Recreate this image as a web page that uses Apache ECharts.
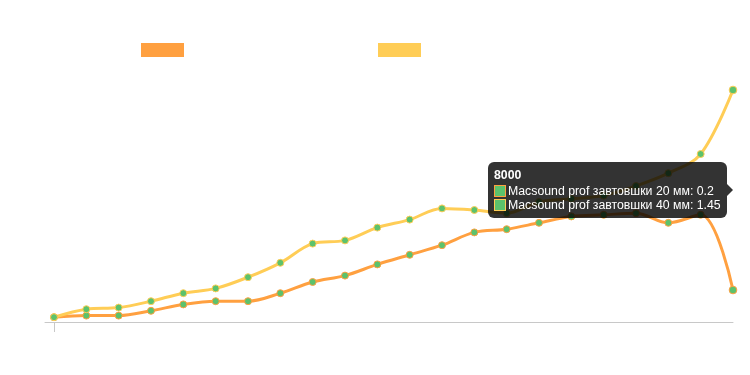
<!DOCTYPE html>
<html>
<head>
<meta charset="utf-8">
<style>
  html, body { margin: 0; padding: 0; background: #fff; }
  #chart { width: 750px; height: 375px; }
</style>
<script src="https://cdn.jsdelivr.net/npm/echarts@6/dist/echarts.min.js"></script>
</head>
<body>
<div id="chart"></div>
<script>
const freqs = ['63', '80', '100', '125', '160', '200', '250', '315', '400', '500', '630',
  '800', '1000', '1250', '1600', '2000', '2500', '3150', '4000', '5000', '6300', '8000'];
const seriesNames = ['Macsound prof завтовшки 20 мм', 'Macsound prof завтовшки 40 мм'];
const thin = [0.03, 0.04, 0.04, 0.07, 0.11, 0.13, 0.13, 0.18, 0.25, 0.29, 0.36,
  0.42, 0.48, 0.56, 0.58, 0.62, 0.66, 0.67, 0.68, 0.62, 0.67, 0.2];
const thick = [0.03, 0.08, 0.09, 0.13, 0.18, 0.21, 0.28, 0.37, 0.49, 0.51, 0.59,
  0.64, 0.71, 0.70, 0.68, 0.75, 0.77, 0.79, 0.85, 0.93, 1.05, 1.45];

const colors = ['#ffa040', '#ffcd56'];
const dotColor = '#5cc26c';

const myChart = echarts.init(document.getElementById('chart'));

function lineSeries(name, data, color) {
  return {
    name: name,
    type: 'line',
    data: data,
    smooth: 0.35,
    symbol: 'circle',
    symbolSize: 7,
    lineStyle: { color: color, width: 3 },
    itemStyle: { color: dotColor, borderColor: color, borderWidth: 1 },
    emphasis: { disabled: true }
  };
}

myChart.setOption({
  animation: false,
  legend: [
    { data: [{ name: seriesNames[0], itemStyle: { color: colors[0], borderWidth: 0 } }], left: 136, top: 38,
      icon: 'rect', itemWidth: 43, itemHeight: 14, textStyle: { color: '#fff' }, selectedMode: false },
    { data: [{ name: seriesNames[1], itemStyle: { color: colors[1], borderWidth: 0 } }], left: 373, top: 38,
      icon: 'rect', itemWidth: 43, itemHeight: 14, textStyle: { color: '#fff' }, selectedMode: false }
  ],
  grid: [
    { left: 54, right: 17, top: 82, bottom: 53 },
    { left: 45, right: 17, top: 82, bottom: 53 }
  ],
  xAxis: [
    {
      type: 'category',
      gridIndex: 0,
      data: freqs,
      boundaryGap: false,
      axisLine: { show: false },
      axisTick: {
        show: true,
        length: 10,
        interval: (i) => i === 0,
        lineStyle: { color: '#c8c8c8' }
      },
      axisLabel: { show: false }
    },
    {
      type: 'value',
      gridIndex: 1,
      min: 0,
      max: 1,
      axisLine: { show: true, lineStyle: { color: '#c8c8c8', width: 1 } },
      axisTick: { show: false },
      axisLabel: { show: false },
      splitLine: { show: false }
    }
  ],
  yAxis: [
    { type: 'value', gridIndex: 0, min: 0, max: 1.5, show: false },
    { type: 'value', gridIndex: 1, min: 0, max: 1, show: false }
  ],
  tooltip: {
    trigger: 'axis',
    triggerOn: 'none',
    alwaysShowContent: true,
    axisPointer: { type: 'none' },
    backgroundColor: 'rgba(0,0,0,0.8)',
    borderWidth: 0,
    padding: [6, 6],
    textStyle: { color: '#fff', fontSize: 12.3, fontFamily: 'Liberation Sans, Arial, sans-serif' },
    extraCssText: 'border-radius:6px;box-shadow:none;',
    formatter: function (params) {
      let html = '<div style="font-weight:bold;line-height:14px;margin-bottom:2px">' + params[0].name + '</div>';
      params.forEach(function (p) {
        html += '<div style="line-height:14px">' +
          '<span style="display:inline-block;box-sizing:border-box;width:12px;height:12px;background:' + dotColor +
          ';border:1px solid ' + colors[p.seriesIndex] + ';vertical-align:-2px;margin-right:2px"></span>' +
          p.seriesName + ': ' + p.value + '</div>';
      });
      html += '<div style="position:absolute;right:-6px;top:50%;margin-top:-6px;width:0;height:0;' +
        'border-top:6px solid transparent;border-bottom:6px solid transparent;' +
        'border-left:6px solid rgba(0,0,0,0.8)"></div>';
      return html;
    },
    position: function (point, params, dom, rect, size) {
      const idx = params[0].dataIndex;
      const p1 = myChart.convertToPixel({ seriesIndex: 0 }, [idx, thin[idx]]);
      const p2 = myChart.convertToPixel({ seriesIndex: 1 }, [idx, thick[idx]]);
      const midY = (p1[1] + p2[1]) / 2;
      return [p1[0] - 6 - size.contentSize[0], midY - size.contentSize[1] / 2];
    }
  },
  series: [
    lineSeries(seriesNames[0], thin, colors[0]),
    lineSeries(seriesNames[1], thick, colors[1])
  ]
});

setTimeout(function () {
  myChart.dispatchAction({ type: 'showTip', seriesIndex: 0, dataIndex: freqs.length - 1 });
}, 50);
</script>
</body>
</html>
